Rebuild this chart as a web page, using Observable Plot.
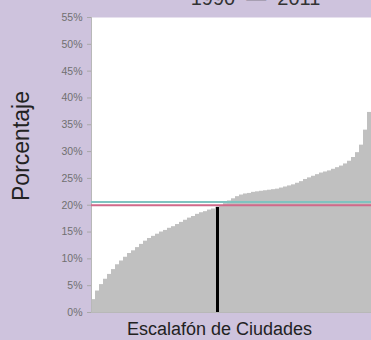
<!DOCTYPE html>
<html>
<head>
<meta charset="utf-8">
<script src="https://cdn.jsdelivr.net/npm/d3@7"></script>
<script src="https://cdn.jsdelivr.net/npm/@observablehq/plot@0.6"></script>
<style>
  html, body { margin: 0; padding: 0; background: #cec3dd; }
  #chart { width: 371px; height: 340px; overflow: hidden; }
</style>
</head>
<body>
<div id="chart"></div>
<script>
// Percent for each city, sorted ascending
const cityValues = [
  2.4, 4.0, 5.2, 6.2, 7.1, 8.0, 8.9, 9.6, 10.3, 11.0,
  11.5, 12.1, 12.7, 13.3, 13.8, 14.2, 14.6, 15.0, 15.3, 15.7,
  16.0, 16.4, 16.8, 17.2, 17.6, 17.9, 18.3, 18.6, 18.8, 19.1,
  19.3, 19.6, 19.9, 20.3, 20.8, 21.2, 21.6, 21.9, 22.1, 22.2,
  22.4, 22.5, 22.6, 22.7, 22.8, 22.9, 23.0, 23.2, 23.4, 23.6,
  23.8, 24.1, 24.4, 24.8, 25.1, 25.4, 25.7, 26.0, 26.2, 26.4,
  26.7, 27.0, 27.3, 27.7, 28.2, 28.9, 29.8, 31.2, 34.0, 37.3
];
const highlightCity = 31;          // city marked with the black bar
const referenceLines = [20.6, 20.0]; // teal, pink
const referenceColors = ["#7fc3c0", "#d0698a"];
const yTicks = [0, 5, 10, 15, 20, 25, 30, 35, 40, 45, 50, 55];
const titleText = "1990\u00A0 \u2014\u00A0 2011";
const yLabel = "Porcentaje";
const xLabel = "Escalafón de Ciudades";

const rows = cityValues.map((v, i) => ({i, v}));
const n = cityValues.length;
const hl = rows[highlightCity];

const chart = Plot.plot({
  width: 371,
  height: 340,
  marginLeft: 91,
  marginRight: 0,
  marginTop: 17,
  marginBottom: 28,
  style: {background: "#cec3dd", fontFamily: "Arial, 'Liberation Sans', sans-serif"},
  x: {domain: [0, n], axis: null},
  y: {domain: [0, 55], axis: null},
  marks: [
    Plot.frame({fill: "white", stroke: null}),
    Plot.rectY(rows, {x1: "i", x2: d => d.i + 1, y: "v", fill: "#c0c0c0", inset: 0}),
    Plot.ruleX([0], {stroke: "#b8b8b8", strokeWidth: 1}),
    Plot.ruleY([0], {stroke: "#b8b8b8", strokeWidth: 1}),
    Plot.ruleY(referenceLines, {y: d => d, stroke: (d, k) => referenceColors[k], strokeWidth: 2}),
    Plot.ruleX([hl], {x: d => d.i + 0.5, y1: 0, y2: d => d.v, stroke: "black", strokeWidth: 3}),
    Plot.axisY({
      ticks: yTicks, tickFormat: d => d + "%", tickSize: 4, tickPadding: 5,
      fontSize: 10.5, stroke: "#a8a8a8", fill: "#707070",
      label: null
    }),
    Plot.text([yLabel], {
      frameAnchor: "left", dx: -70, dy: -19, rotate: -90, fontSize: 23, fill: "#222",
      text: d => d, textAnchor: "middle", lineAnchor: "middle"
    }),
    Plot.text([xLabel], {
      frameAnchor: "bottom", dy: 17, dx: -12, fontSize: 18, fill: "#222", text: d => d,
      lineAnchor: "middle"
    }),
    Plot.text([titleText], {
      frameAnchor: "top", dy: -13, dx: 24, fontSize: 20, fill: "#333",
      lineAnchor: "bottom", text: d => d
    })
  ]
});
document.getElementById("chart").appendChild(chart);
</script>
</body>
</html>
